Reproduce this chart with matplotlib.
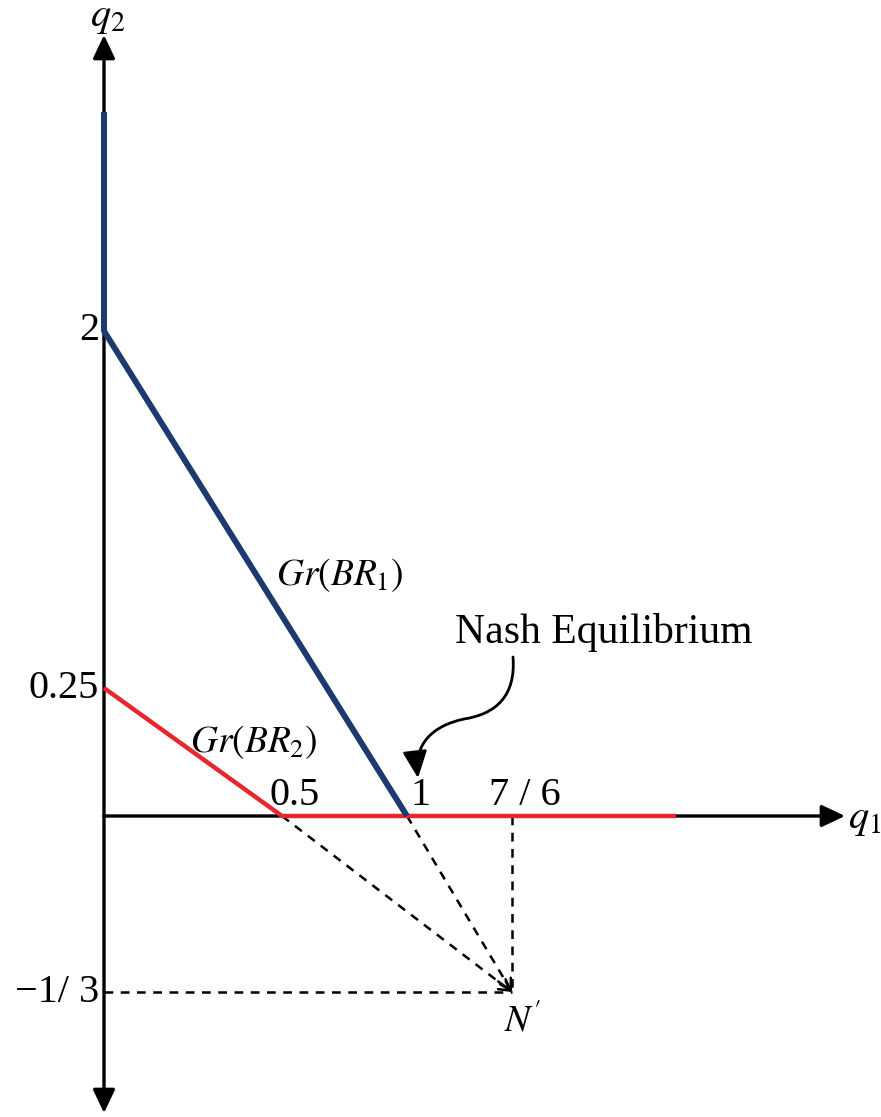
import matplotlib
matplotlib.use("Agg")
import matplotlib.pyplot as plt
from matplotlib.path import Path
from matplotlib.patches import FancyArrowPatch

plt.rcParams['font.family'] = ['Liberation Serif', 'DejaVu Serif']
plt.rcParams['mathtext.fontset'] = 'stix'

# schematic positions as drawn (origin at the axes crossing)
q1_ticks = [178, 303, 408]
q1_labels = ['0.5', '1', '7 / 6']
q2_ticks = [485, 128, -176]
q2_labels = ['2', '0.25', '\u22121/ 3']

br1_q1 = [0, 0, 303]
br1_q2 = [704, 485, 0]
br2_q1 = [0, 178, 572]
br2_q2 = [128, 0, 0]
n_prime = (408, -176)

blue = '#1d3a70'
red = '#e8262e'

fig = plt.figure(figsize=(8.81, 11.17), dpi=100)
ax = fig.add_axes([0, 0, 1, 1])
ax.set_xlim(-104, 777)
ax.set_ylim(-301, 816)
ax.axis('off')

# axes with arrows
arr = dict(arrowstyle='-|>,head_length=0.95,head_width=0.45', lw=2.4, color='k',
           mutation_scale=15, shrinkA=0, shrinkB=0)
ax.annotate('', xy=(741, 0), xytext=(0, 0), arrowprops=arr)
ax.annotate('', xy=(0, 781), xytext=(0, 0), arrowprops=arr)
ax.annotate('', xy=(0, -297), xytext=(0, 0), arrowprops=arr)

# dashed guides to N'
for x0 in q1_ticks:
    ax.plot([x0, n_prime[0]], [0, n_prime[1]], ls=(0, (3.5, 3)), color='k', lw=1.8)
ax.plot([0, n_prime[0]], [n_prime[1], n_prime[1]], ls=(0, (3.5, 3)), color='k', lw=1.8)
for x0 in q1_ticks[:2]:
    dx, dy = n_prime[0] - x0, n_prime[1]
    ax.annotate('', xy=n_prime, xytext=(n_prime[0] - dx * 0.06, n_prime[1] - dy * 0.06),
                arrowprops=dict(arrowstyle='->,head_length=0.5,head_width=0.3',
                                lw=1.8, color='k', mutation_scale=15,
                                shrinkA=0, shrinkB=0))

# best response graphs
ax.plot(br2_q1, br2_q2, color=red, lw=3.2, solid_capstyle='butt', zorder=3)
ax.plot(br1_q1, br1_q2, color=blue, lw=4.3, solid_capstyle='butt', zorder=4)

fs = 29
for x, lab in zip(q1_ticks, q1_labels):
    ax.text(x + 13, 2, lab, ha='center', va='bottom', fontsize=fs)
for y, lab in zip(q2_ticks, q2_labels):
    ax.text(-5, y, lab, ha='right', va='center', fontsize=fs)

ax.text(744, -4, r'$q_1$', ha='left', va='center', fontsize=fs)
ax.text(4, 798, r'$q_2$', ha='center', va='center', fontsize=fs)
ax.text(419, -205, r"$N'$", ha='center', va='center', fontsize=fs - 2)
ax.text(236, 241, r'$Gr(BR_1)$', ha='center', va='center', fontsize=fs - 2)
ax.text(150, 74, r'$Gr(BR_2)$', ha='center', va='center', fontsize=fs - 2)
ax.text(351, 173, 'Nash Equilibrium', ha='left', va='baseline', fontsize=fs + 1)

# curved pointer to the equilibrium
verts = [(409, 159), (412, 120), (392, 102), (360, 97),
         (328, 90), (310, 72), (314, 38)]
codes = [Path.MOVETO] + [Path.CURVE4] * 6
curve = FancyArrowPatch(path=Path(verts, codes),
                        arrowstyle='-|>,head_length=1.1,head_width=0.5',
                        mutation_scale=15, lw=2, color='k')
ax.add_patch(curve)

fig.savefig('out.png', dpi=100)
